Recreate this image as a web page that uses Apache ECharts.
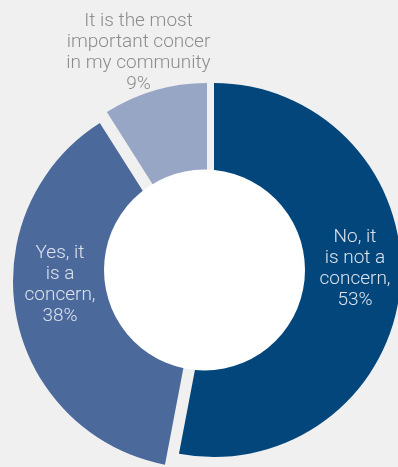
<!DOCTYPE html>
<html>
<head>
<meta charset="utf-8">
<script src="https://cdn.jsdelivr.net/npm/echarts@6/dist/echarts.min.js"></script>
<style>
  html, body { margin: 0; padding: 0; background: #f0f0f0; }
  #chart { width: 398px; height: 467px; }
</style>
</head>
<body>
<div id="chart"></div>
<script>
// Survey answers and their shares (%)
const categories = [
  'No, it\nis not a\nconcern,',
  'Yes, it\nis a\nconcern,',
  'It is the most\nimportant concer\nin my community'
];
const shares = [53, 38, 9];

// Styling per answer
const sliceColors = ['#02467c', '#4b6a9b', '#97a6c4'];
const labelColors = ['#dde3ed', '#dde3ed', '#8c8c8c'];
// every slice is pulled slightly away from the others, so each one gets its own centre
const sliceCenters = [[214, 270], [200, 281], [207, 270]];
const labelPositions = [[355, 269], [60, 285], [138.5, 53]];
const outerRadius = 187;
const hole = { cx: 204.5, cy: 270, r: 100.5 };

const chart = echarts.init(document.getElementById('chart'), null, { renderer: 'canvas' });

const series = shares.map((_, k) => ({
  type: 'pie',
  center: sliceCenters[k],
  radius: [0, outerRadius],
  startAngle: 90,
  clockwise: true,
  avoidLabelOverlap: false,
  silent: true,
  emphasis: { disabled: true },
  labelLine: { show: false },
  label: {
    show: true,
    position: 'inside',
    fontFamily: 'Roboto',
    fontWeight: 300,
    fontSize: 19,
    lineHeight: 21,
    align: 'center',
    formatter: p => p.name + '\n' + p.value + '%'
  },
  labelLayout: () => ({
    x: labelPositions[k][0],
    y: labelPositions[k][1],
    align: 'center',
    verticalAlign: 'middle'
  }),
  data: shares.map((v, i) => ({
    value: v,
    name: categories[i],
    itemStyle: {
      color: i === k ? sliceColors[k] : 'rgba(0,0,0,0)',
      borderWidth: 0
    },
    label: { show: i === k, color: labelColors[k] }
  }))
}));

chart.setOption({
  backgroundColor: '#f0f0f0',
  animation: false,
  series: series,
  graphic: {
    elements: [{
      type: 'circle',
      z: 100,
      silent: true,
      shape: { cx: hole.cx, cy: hole.cy, r: hole.r },
      style: { fill: '#ffffff' }
    }]
  }
});
</script>
</body>
</html>
